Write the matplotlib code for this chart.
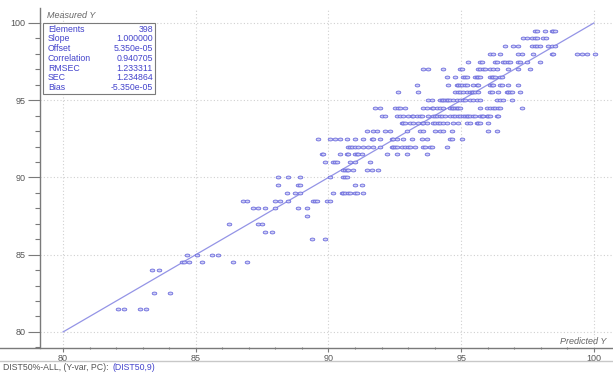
import numpy as np
import matplotlib
matplotlib.use("Agg")
import matplotlib.pyplot as plt
from matplotlib.path import Path
from matplotlib.ticker import MultipleLocator
from matplotlib.lines import Line2D
from matplotlib.patches import Rectangle

plt.rcParams['font.family'] = ['Liberation Sans', 'DejaVu Sans']

# measured Y levels (step 0.5) and the predicted Y of the samples in each level
measured_levels = [99.5, 99, 98.5, 98, 97.5, 97, 96.5, 96, 95.5, 95, 94.5, 94,
                   93.5, 93, 92.5, 92, 91.5, 91, 90.5, 90, 89.5, 89, 88.5, 88,
                   87.5, 87, 86.5, 86, 85, 84.5, 84, 82.5, 81.5]
pred_by_level = [
    [97.78, 97.85, 98.15, 98.42, 98.46, 98.53],
    [97.33, 97.48, 97.66, 97.78, 97.85, 98.08, 98.2],
    [96.65, 96.95, 97.14, 97.66, 97.78, 97.85, 97.97, 98.27, 98.42, 98.53],
    [96.08, 96.2, 96.46, 97.14, 97.29, 97.7, 98.42, 98.46, 99.36, 99.55, 99.74, 100.04],
    [95.25, 95.71, 95.78, 96.27, 96.35, 96.57, 96.65, 96.76, 96.84, 97.14, 97.21, 97.48, 97.97],
    [93.56, 93.75, 94.31, 94.95, 95.03, 95.63, 95.71, 95.82, 95.89, 96.08, 96.2, 96.35, 96.76,
     97.14, 97.59],
    [94.46, 94.76, 95.07, 95.14, 95.22, 95.52, 95.59, 95.63, 95.71, 96.08, 96.16, 96.2, 96.27,
     96.46, 96.53],
    [93.33, 94.5, 94.84, 94.88, 94.95, 95.03, 95.14, 95.22, 95.44, 95.59, 95.63, 96.08, 96.16,
     96.2, 96.46, 96.53, 96.76, 97.14],
    [92.62, 93.37, 94.76, 94.88, 94.95, 95.07, 95.22, 95.33, 95.4, 95.44, 95.52, 95.63, 96.08,
     96.16, 96.38, 96.72, 96.76, 96.84, 96.91, 97.21],
    [93.75, 93.9, 94.2, 94.27, 94.31, 94.39, 94.46, 94.5, 94.58, 94.69, 94.84, 94.95, 95.07,
     95.14, 95.33, 95.44, 95.59, 95.71, 96.35, 96.46, 96.57, 96.91],
    [91.75, 91.94, 92.5, 92.62, 92.69, 92.88, 93.56, 93.71, 93.9, 93.94, 94.09, 94.2, 94.31,
     94.58, 94.65, 94.69, 94.76, 94.84, 94.88, 94.95, 95.71, 95.97, 96.08, 96.2, 96.27, 96.38,
     96.46, 97.29],
    [92.02, 92.13, 92.58, 92.69, 92.81, 92.99, 93.15, 93.18, 93.33, 93.45, 93.52, 93.75, 93.94,
     94.01, 94.09, 94.2, 94.27, 94.39, 94.58, 94.69, 94.76, 94.88, 94.95, 95.07, 95.14, 95.22,
     95.25, 95.33, 95.44, 95.52, 95.71, 95.78, 95.82, 95.97, 96.01, 96.08, 96.35, 96.38],
    [92.77, 92.81, 92.88, 93.07, 93.18, 93.37, 93.52, 93.56, 93.71, 93.94, 94.01, 94.12, 94.2,
     94.31, 94.46, 94.69, 94.88, 95.22, 95.33, 95.59, 95.63, 95.71, 96.01],
    [91.45, 91.68, 91.83, 92.13, 92.32, 92.96, 93.45, 93.56, 94.01, 94.2, 94.31, 94.65, 96.01,
     96.35],
    [89.6, 90.06, 90.24, 90.43, 90.7, 91.0, 91.3, 91.64, 91.68, 91.94, 92.39, 92.43, 92.58,
     92.81, 93.15, 93.52, 93.71, 94.58, 94.65, 95.03],
    [90.73, 90.81, 90.89, 91.0, 91.11, 91.3, 91.49, 91.68, 91.94, 92.39, 92.43, 92.5, 92.58,
     92.77, 92.88, 92.99, 93.07, 93.26, 93.56, 93.63, 93.82, 93.9, 94.46],
    [89.76, 89.79, 90.43, 90.7, 90.73, 91.0, 91.07, 91.11, 91.26, 92.2, 92.58, 92.96, 93.71],
    [89.87, 90.17, 90.24, 90.32, 90.81, 91.0, 91.56],
    [90.55, 90.62, 90.7, 90.73, 90.92, 91.45, 91.64, 91.86],
    [88.1, 88.47, 88.93, 90.06, 90.55, 90.62, 90.7],
    [88.1, 88.85, 88.93, 91.0, 91.26],
    [88.44, 88.74, 88.93, 90.17, 90.51, 90.55, 90.62, 90.73, 90.81, 91.0, 91.07, 91.3],
    [86.78, 86.93, 87.98, 88.17, 88.47, 89.42, 89.49, 89.57, 89.94, 90.06],
    [87.16, 87.34, 87.61, 87.98, 88.85, 89.19],
    [89.19],
    [86.25, 87.34, 87.5],
    [87.61, 87.87],
    [89.38, 89.87],
    [84.67, 85.05, 85.61, 85.84],
    [84.48, 84.56, 84.75, 85.24, 86.4, 86.93],
    [83.35, 83.62],
    [83.43, 84.03],
    [82.07, 82.3, 82.9, 83.13],
]

stat_names = ["Elements", "Slope", "Offset", "Correlation", "RMSEC", "SEC", "Bias"]
stat_values = ["398", "1.000000", "5.350e-05", "0.940705", "1.233311", "1.234864", "-5.350e-05"]

pred = []
meas = []
for lev, xs in zip(measured_levels, pred_by_level):
    pred += xs
    meas += [lev] * len(xs)

W, H = 613, 375
fig = plt.figure(figsize=(W / 100, H / 100), dpi=100)
fig.patch.set_facecolor("white")

def fx(px):
    return px / W

def fy(py):
    return 1 - py / H

ax = fig.add_axes([fx(40), fy(348), fx(613 - 40), (348 - 8) / H])
ax.set_xlim(79.13, 100.72)
ax.set_ylim(78.96, 100.97)

grey = "#7a7a7a"
blue = "#4444cc"

# regression line
ax.plot([80, 100], [80, 100], color="#9494e6", lw=0.9, zorder=2)

# small flat ellipse markers
t = np.linspace(0, 2 * np.pi, 40)
ell = Path(np.column_stack([np.cos(t), 0.62 * np.sin(t)]))
ax.scatter(pred, meas, marker=ell, s=11, facecolor="#cfcff6", edgecolor="#6b6bdc",
           linewidths=0.6, zorder=3)

ax.set_xticks([80, 85, 90, 95, 100])
ax.set_yticks([80, 85, 90, 95, 100])
ax.xaxis.set_minor_locator(MultipleLocator(1))
ax.yaxis.set_minor_locator(MultipleLocator(1))
ax.grid(True, which="major", linestyle=(0, (1, 2)), color="#d0d0d0", lw=0.8)
ax.set_axisbelow(True)

for s in ["top", "right", "bottom"]:
    ax.spines[s].set_visible(False)
ax.spines["left"].set_color(grey)
ax.spines["left"].set_linewidth(1.0)

ax.tick_params(axis="y", which="major", direction="out", length=8.5, width=0.8,
               color=grey, labelsize=6.5, labelcolor="#555555", pad=2)
ax.tick_params(axis="y", which="minor", direction="out", length=3.5, width=0.8, color=grey)
ax.tick_params(axis="x", which="major", direction="out", length=3, width=0.8,
               color=grey, labelsize=6.5, labelcolor="#555555", pad=1.5)
ax.tick_params(axis="x", which="minor", direction="inout", length=2, width=0.8, color=grey)

# x axis line over the full width, and separator line under it
fig.add_artist(Line2D([0, 1], [fy(348), fy(348)], color=grey, lw=1.0))
fig.add_artist(Line2D([0, 1], [fy(361), fy(361)], color="#c8c8c8", lw=1.0))

# axis titles
fig.text(fx(47), fy(15), "Measured Y", fontsize=6.5, style="italic", color="#666666",
         va="center", ha="left")
fig.text(fx(606), fy(341), "Predicted Y", fontsize=6.5, style="italic", color="#666666",
         va="center", ha="right")

# statistics box
fig.add_artist(Rectangle((fx(43), fy(94)), fx(155 - 43), (94 - 23) / H, transform=fig.transFigure,
                         facecolor="white", edgecolor=grey, lw=0.8, zorder=5))
for i, (n, v) in enumerate(zip(stat_names, stat_values)):
    yy = fy(29 + i * 9.8)
    fig.text(fx(48), yy, n, fontsize=6.3, color=blue, va="center", ha="left", zorder=6)
    fig.text(fx(153), yy, v, fontsize=6.3, color=blue, va="center", ha="right", zorder=6)

# footer
fig.text(fx(3), fy(368), "DIST50%-ALL, (Y-var, PC):", fontsize=6.3, color="#555555",
         va="center", ha="left")
fig.text(fx(112), fy(368), "(DIST50,9)", fontsize=6.3, color=blue, va="center", ha="left")

fig.savefig("out.png", dpi=100, facecolor="white")
